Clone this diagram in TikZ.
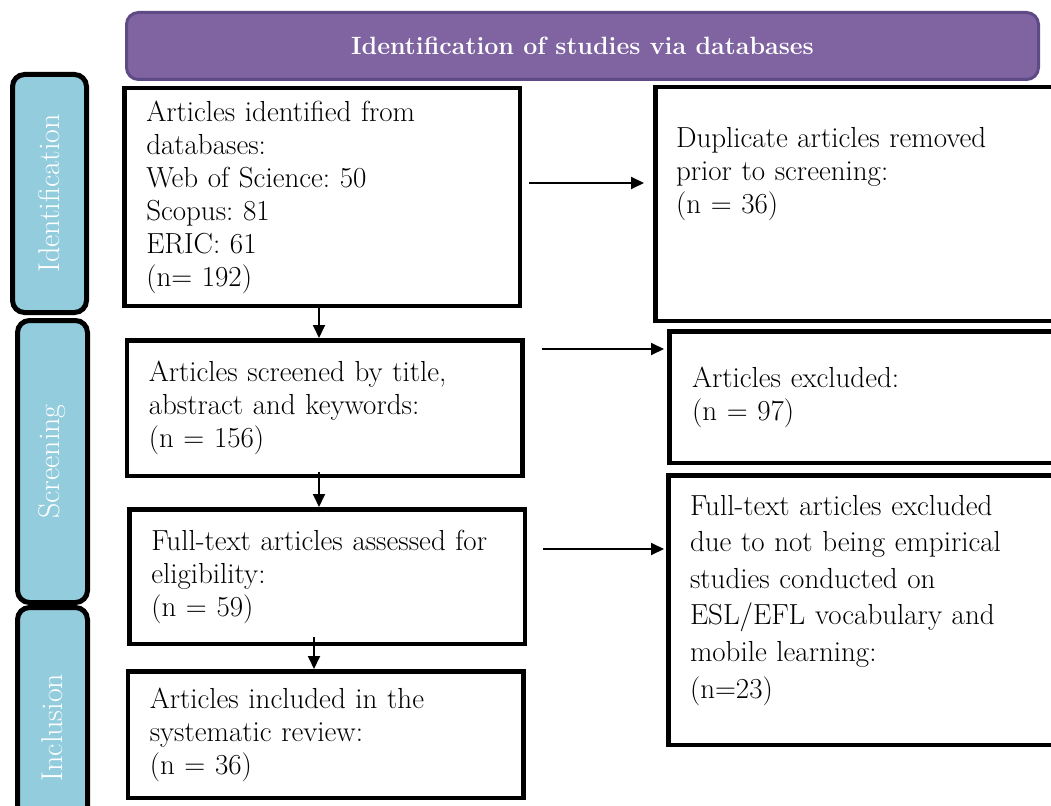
\documentclass[tikz,border=0pt]{standalone}
\usepackage{fontspec}
\usetikzlibrary{arrows.meta, positioning}

\definecolor{phaseblue}{HTML}{93CDDD}
\definecolor{headpurple}{HTML}{8064A2}
\definecolor{headline}{HTML}{5E4A84}

\tikzset{
  stage/.style={draw, line width=4.5pt, align=left, inner ysep=0pt,
    font=\fontsize{29}{33}\selectfont\frenchspacing},
  leftbox/.style={stage, text width=351.5pt, inner xsep=22pt},
  phase/.style={draw, line width=5pt, fill=phaseblue, rounded corners=12pt,
    rotate=90, text=white, font=\fontsize{30}{33}\selectfont},
}

\begin{document}
\begin{tikzpicture}[x=1pt, y=-1pt, >={Triangle[length=13pt,width=12pt]}, node distance=30pt]
    \useasboundingbox (0,0) rectangle (1051,805);
    \clip (0,0) rectangle (1051,805);

    \node[draw=headline, line width=3pt, fill=headpurple, rounded corners=12pt,
      minimum width=912pt, minimum height=67pt, text=white,
      font=\bfseries\fontsize{25}{30}\selectfont] (head) at (582.5,46)
      {Identification of studies via databases};

    \node[phase, minimum width=238pt, minimum height=74pt] (pident) at (49.5,193.5) {Identification};
    \node[phase, minimum width=282pt, minimum height=70pt] (pscreen) at (52.5,461.5) {Screening};
    \node[phase, minimum width=240pt, minimum height=70pt] (pincl) at (52.5,727.5) {Inclusion};

    \node[leftbox, minimum height=217.5pt] (found) at (322,197)
      {Articles identified from\\databases:\\Web of Science: 50\\Scopus: 81\\ERIC: 61\\(n= 192)};
    \node[leftbox, minimum height=135.5pt] (screened) [below=30pt of found, xshift=2.5pt]
      {Articles screened by title,\\abstract and keywords:\\(n = 156)};
    \node[leftbox, minimum height=134.5pt] (elig) [below=29pt of screened, xshift=2.5pt]
      {Full-text articles assessed for\\eligibility:\\(n = 59)};
    \node[leftbox, minimum height=126.5pt] (incl) [below=23pt of elig, xshift=-1.5pt]
      {Articles included in the\\systematic review:\\(n = 36)};

    \node[stage, text width=380pt, inner xsep=20.75pt, text height=60.75pt, text depth=172.75pt,
      right=131pt of found.north east, anchor=north west, yshift=1pt] (dupl)
      {Duplicate articles removed\\prior to screening:\\(n = 36)};
    \node[stage, text width=380pt, inner xsep=22.75pt, minimum height=131.5pt,
      right=142.5pt of screened.north east, anchor=north west, yshift=9pt] (excl)
      {Articles excluded:\\(n = 97)};
    \node[stage, text width=380pt, inner xsep=21.75pt, text height=39.75pt, text depth=229.75pt,
      font=\fontsize{29}{36.6}\selectfont,
      right=139pt of elig.north east, anchor=north west, yshift=34pt] (ftexcl)
      {Full-text articles excluded\\due to not being empirical\\studies conducted on\\ESL/EFL vocabulary and\\mobile learning:\\(n=23)};

    \path[->, line width=1.8pt]
    ([xshift=-3pt]found.south) edge ([xshift=-3pt]found.south |- screened.north)
    ([xshift=-5.5pt]screened.south) edge [shorten <=-6pt] ([xshift=-5.5pt]screened.south |- elig.north)
    ([xshift=-13pt]elig.south) edge [shorten <=-9pt] ([xshift=-13pt]elig.south |- incl.north)
    ([yshift=14pt]found.east) edge [shorten <=7pt, shorten >=9pt] ([yshift=14pt]found.east -| dupl.west)
    ([yshift=59pt]screened.east) edge [shorten <=17pt, shorten >=3pt] ([yshift=59pt]screened.east -| excl.west)
    ([yshift=27.5pt]elig.east) edge [shorten <=16pt, shorten >=2pt] ([yshift=27.5pt]elig.east -| ftexcl.west)
    ;
\end{tikzpicture}
\end{document}
